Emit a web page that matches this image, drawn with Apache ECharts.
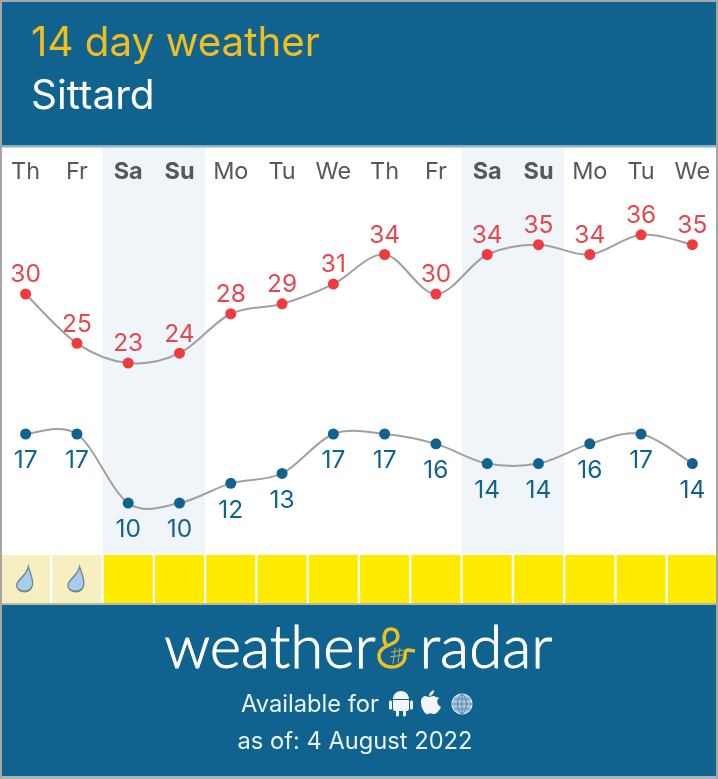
<!DOCTYPE html>
<html>
<head>
<meta charset="utf-8">
<style>html,body{margin:0;padding:0;background:#fff}#chart{width:718px;height:779px}</style>
<script src="https://cdn.jsdelivr.net/npm/echarts@6/dist/echarts.min.js"></script>
</head>
<body>
<div id="chart"></div>
<script>
// 14 day forecast for Sittard
const days = ['Th','Fr','Sa','Su','Mo','Tu','We','Th','Fr','Sa','Su','Mo','Tu','We'];
const highs = [30,25,23,24,28,29,31,34,30,34,35,34,36,35];
const lows = [17,17,10,10,12,13,17,17,16,14,14,16,17,14];
const weekend = [0,0,1,1,0,0,0,0,0,1,1,0,0,0];
const rainy = [1,1,0,0,0,0,0,0,0,0,0,0,0,0];

const BLUE = '#10638F', YELLOW = '#F0BE1E', FONT = 'Inter, "Noto Sans", sans-serif';
const DROP = 'path://M11 0 C12.5 6 15 11 15 17 C15 22 11.5 25 7.5 25 C3 25 0 22.5 0 19 C0 13 9 10 11 0 Z';

// Brand marks drawn in the footer
const shapes = {
  ampersand: 'M386 645 C383 640 383 629 391 629 C398 629 400 638 395 642 C388 646 379 648 379 656 C379 663 385 667 392 667 C400 667 405 662 405 656 C405 652 406 650 408 650 L415 651',
  hatch: 'M391 652 L404 650 M390 657 L403 655 M395 648 L393 664 M400 648 L398 663',
  android: 'M393 699 C393 694 397 691 401 691 C405 691 409 694 409 699 Z M393 700 L409 700 L409 709 C409 710 408 711 407 711 L406 711 L406 715 C406 717 403 717 403 715 L403 711 L399 711 L399 715 C399 717 396 717 396 715 L396 711 L395 711 C394 711 393 710 393 709 Z M389 702 C389 700 392 700 392 702 L392 708 C392 710 389 710 389 708 Z M410 702 C410 700 413 700 413 702 L413 708 C413 710 410 710 410 708 Z',
  apple: 'M436 697 C433 695 431 697 429 697 C427 697 425 695 423 697 C420 699 421 704 422 708 C424 712 426 715 428 714 C430 713 431 713 433 714 C436 715 439 711 441 707 C437 705 436 700 439 698 C438 697 437 697 436 697 Z M429 696 C429 693 431 691 434 690 C434 693 432 696 429 696 Z',
  globeGrid: 'M462 694 C456 698 456 710 462 714 C468 710 468 698 462 694 Z M452 704 L472 704 M462 694 L462 714 M454 699 L470 699 M454 709 L470 709'
};
Object.keys(shapes).forEach(name => {
  echarts.graphic.registerShape(name, echarts.graphic.extendPath(shapes[name]));
});

const label = (text, x, y, size, fill, weight, align, family, outline) => ({
  type: 'text', z: 30,
  style: Object.assign({ text, x, y, fill, textAlign: align || 'center', textVerticalAlign: 'middle',
           font: `${weight || 400} ${size}px ${family || FONT}` },
           outline ? { stroke: fill, lineWidth: outline } : {})
});
const rect = (x, y, width, height, fill, z) => ({
  type: 'rect', z: z || 20, silent: true, shape: { x, y, width, height }, style: { fill }
});
const mark = (type, style) => ({ type, z: 30, silent: true, style });

// Catmull-Rom segment from day i to day i + 1, positioned through the axis scales
const splineSeries = (values, yAxisIndex) => ({
  type: 'custom', xAxisIndex: 0, yAxisIndex, silent: true, z: 4,
  data: values.map((v, i) => [i, v]),
  encode: { x: 0, y: 1 },
  renderItem: (params, api) => {
    const i = params.dataIndex;
    if (i >= values.length - 1) return null;
    const at = k => {
      const c = Math.max(0, Math.min(values.length - 1, k));
      return api.coord([c, values[c]]);
    };
    const p0 = at(i - 1), p1 = at(i), p2 = at(i + 1), p3 = at(i + 2);
    return {
      type: 'bezierCurve',
      shape: {
        x1: p1[0], y1: p1[1], x2: p2[0], y2: p2[1],
        cpx1: p1[0] + (p2[0] - p0[0]) / 6, cpy1: p1[1] + (p2[1] - p0[1]) / 6,
        cpx2: p2[0] - (p3[0] - p1[0]) / 6, cpy2: p2[1] - (p3[1] - p1[1]) / 6
      },
      style: { fill: null, stroke: '#A0A0A0', lineWidth: 2 }
    };
  }
});

const chart = echarts.init(document.getElementById('chart'));
chart.setOption({
  animation: false,
  backgroundColor: '#fff',
  grid: [
    { left: 0, width: 718, top: 148, height: 406 },
    { left: 0, width: 718, top: 555, height: 48 }
  ],
  xAxis: [
    {
      type: 'category', gridIndex: 0, position: 'top', z: 3, data: days.map((d, i) => ({
        value: d,
        textStyle: weekend[i] ? { fontWeight: 700 } : {}
      })),
      axisLine: { show: false }, axisTick: { show: false }, splitLine: { show: false },
      axisLabel: { inside: true, margin: 12, color: '#55585C', fontSize: 23.5, fontFamily: FONT, interval: 0 }
    },
    { type: 'category', gridIndex: 1, data: days, show: false }
  ],
  yAxis: [
    { type: 'value', gridIndex: 0, min: 3.66, max: 44.79, show: false },
    { type: 'value', gridIndex: 0, min: 4.84, max: 45.98, show: false },
    { type: 'value', gridIndex: 0, min: 0, max: 1, show: false },
    { type: 'value', gridIndex: 1, min: 0, max: 1, show: false }
  ],
  series: [
    {
      type: 'bar', xAxisIndex: 0, yAxisIndex: 2, barWidth: '100%', silent: true, z: 1,
      data: weekend, itemStyle: { color: '#F0F5F9' }
    },
    splineSeries(highs, 0),
    splineSeries(lows, 1),
    {
      type: 'line', xAxisIndex: 0, yAxisIndex: 0, data: highs, z: 5,
      symbol: 'circle', symbolSize: 11,
      lineStyle: { width: 0, opacity: 0 },
      itemStyle: { color: '#F03A3E' },
      label: { show: true, position: 'top', distance: 1, color: '#E5484F', fontSize: 24.5, fontFamily: FONT }
    },
    {
      type: 'line', xAxisIndex: 0, yAxisIndex: 1, data: lows, z: 5,
      symbol: 'circle', symbolSize: 11,
      lineStyle: { width: 0, opacity: 0 },
      itemStyle: { color: BLUE },
      label: { show: true, position: 'bottom', distance: 9, color: BLUE, fontSize: 24.5, fontFamily: FONT }
    },
    {
      type: 'bar', xAxisIndex: 1, yAxisIndex: 3, barWidth: 49, silent: true,
      data: rainy.map(r => ({ value: 1, itemStyle: { color: r ? '#F5EFC2' : '#FFEB00' } }))
    },
    {
      type: 'scatter', xAxisIndex: 1, yAxisIndex: 3, silent: true, z: 6,
      symbol: DROP, symbolSize: [16, 25], symbolOffset: [-1, 0],
      itemStyle: { color: '#92C5F5', borderColor: '#5C6B78', borderWidth: 1.5 },
      data: rainy.map((r, i) => r ? [i, 0.5] : null).filter(Boolean)
    }
  ],
  graphic: [
    rect(0, 0, 718, 146, BLUE),
    rect(0, 145, 718, 2.5, '#8FB0C4'),
    rect(0, 603, 718, 2, '#B5B9A8'),
    rect(0, 605, 718, 171, BLUE),
    rect(0, 776, 718, 3, '#A9B4B8', 25),
    rect(0, 0, 718, 2, '#A6A6A6', 25),
    rect(0, 0, 2, 779, '#A6A6A6', 25),
    rect(716, 0, 2, 779, '#A6A6A6', 25),
    label('14 day weather', 31, 44, 40.3, YELLOW, 400, 'left'),
    label('Sittard', 31, 97, 40.5, '#FFFFFF', 400, 'left'),
    label('weather', 270, 649, 60, '#FFFFFF', 300, 'center', 'Lato', 0.9),
    label('radar', 486, 649, 60, '#FFFFFF', 300, 'center', 'Lato', 0.9),
    mark('ampersand', { fill: null, stroke: YELLOW, lineWidth: 3.5 }),
    mark('hatch', { fill: null, stroke: '#C9AE55', lineWidth: 1 }),
    label('Available for', 310, 704.5, 23.7, '#EAF3F8'),
    label('as of: 4 August 2022', 355, 741.5, 23.7, '#EAF3F8'),
    mark('android', { fill: '#F2F6F8' }),
    mark('apple', { fill: '#F2F6F8' }),
    { type: 'circle', z: 30, silent: true, shape: { cx: 462, cy: 704, r: 10 }, style: { fill: '#A9C6D8', stroke: '#D5E4EC', lineWidth: 1.2 } },
    { type: 'globeGrid', z: 31, silent: true, style: { fill: null, stroke: '#4F8BAE', lineWidth: 1 } }
  ]
});
</script>
</body>
</html>
